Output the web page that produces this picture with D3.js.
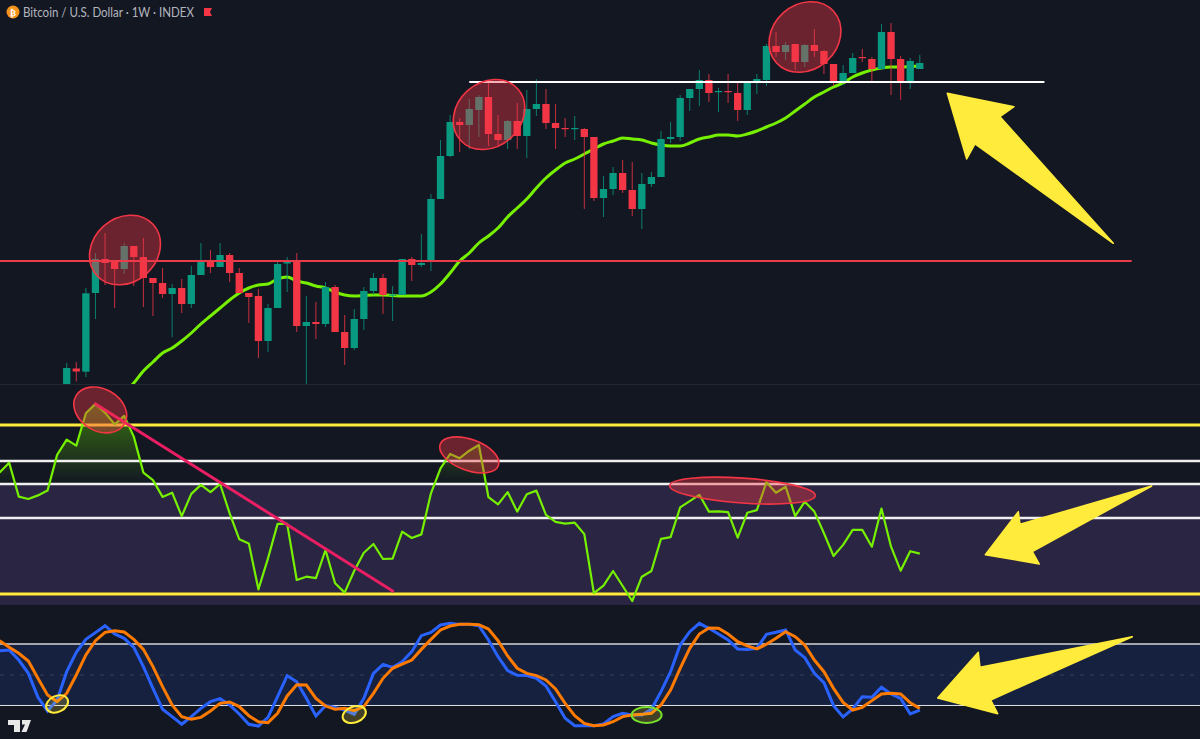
<!DOCTYPE html>
<html><head><meta charset="utf-8">
<script src="https://cdn.jsdelivr.net/npm/d3@7"></script>
<style>html,body{margin:0;padding:0;background:#131722;overflow:hidden}svg{display:block}</style>
</head><body><svg id="c" width="1200" height="739"></svg>
<script>
const title = "Bitcoin / U.S. Dollar · 1W · INDEX";
// Weekly candles, index 0..89 (price axis hidden: values in chart units)
const opens  = [-7,16.5,13.3,92,126,124,116,139,128,107,102,91,97,81,110,123,118,130,112,92,89,44,77,121.5,123,59,63,61,98,53,37,66,94,107,89.5,90,126,120,124,186,229,263,260,275,288,251,245,264,249,276,281,262,257,256,256,248,187,196,212,195,176,201,208,246,248,287,296,305,293,294,292,275,304,305,339,333,341,323,340,334,321,304,312,328,326,316,353,326,304,316];
const highs  = [22,23,97,132,152,125,142,139,147,107,117,101,106,119,142,135,142,132,117,92,96,81,123,128,132,89,83,103,100,70,76,98,112,111,99,126,128,151,191,245,270,267,286,290,305,270,265,282,295,306,296,281,267,269,257,248,209,218,225,223,212,213,254,263,290,296,315,311,297,311,303,304,311,341,353,343,341,341,356,335,321,320,332,336,328,361,362,329,327,330];
const lows   = [-10,3.5,8,66,100,77,111,99,78,69,87,48,72,77,110,112,118,103,92,62,27,33,77,93,53,-5,46,58,53,20,35,55,90,71,64,90,104,118,114,186,228,233,236,248,239,240,236,236,227,269,256,236,248,245,176,184,168,190,192,169,156,198,208,242,244,274,279,283,273,282,264,270,291,299,328,325,315,318,328,311,299,300,312,323,304,316,290,285,296,316];
const closes = [17,13.5,91.7,126,122,116,139,128,107,102,91,97,81,110,123,118,130,112,92,88,44,77,121,123,59,63,61,98,53,37,66,94,107,90,90.5,126,120,122,186,229,263,260,276,288,251,245,264,249,276,281,262,257,256,257,248,187,196,212,195,176,201,208,246,248,287,296,305,292,294,293,275,302,306,339,333,340,323,340,334,321,304,312,327,327,316,353,326,304,324,322];
// 20-period moving average, starting at candle 6
const maStart = 6;
const maValues = [-8,2,14,23,32,37,44,52,61,69,77,85,92,97,100,101,106,108,104,102,99,97,93,90,89,89.5,90,90,89.5,89,89,89,93,101,112,124,132,142,149,157,168,177,186,197,207,215,222,226,231,236,241,244,247,246,245,242,240,239,239,242,246,248,250,250,249,251,254,258,262,267,274,281,288,293,298,302,308,312,315,317,318,318,318.5,319];
// RSI, starting 7 weeks before candle 0
const oscStart = -7;
const rsiValues = [73.8,77.1,65.8,65,66.2,67.8,79.7,84.8,82.8,93.6,96.7,93.8,89.9,92.7,85.8,73.8,71.3,65.7,67.1,59.3,66.7,69.7,67.3,70,60.2,51.6,50.2,34.9,45.2,56.7,56.7,38,39.1,38.6,48,36.9,33.8,41.1,47.1,50,45,45.1,54.1,52,53.2,66.9,75.2,80,78.6,81.1,83,65.6,63.2,67.3,60.8,66.6,67.8,59.7,57.4,56.8,57.1,53.3,33.6,36.1,41,36,31,39.1,41,51.7,52.3,62.2,64.3,66.4,60.8,60.9,60.6,52.1,60.4,61.3,70.6,67.1,69.1,59.3,64.1,60.8,53.6,46,49.7,54.7,54.7,49.1,61.8,49.1,41.1,47.6,46.8];
const stochK = [73.5,74.2,64.5,51.6,28.4,15.2,25.8,53.2,71.9,84.5,91,97.7,89.7,85.5,76.8,58.1,37.1,16.8,9.7,2.3,9.7,17.7,24.2,27.1,21,12.3,2.3,0.6,9,29,49.4,43.5,27.4,10.3,20.3,18.7,16.1,11.9,27.4,51.6,60.3,57.4,62.9,72.6,88.1,91.3,98.4,100,99,99,97.7,83.9,67.7,54.2,49.7,49.4,46.8,39.4,24.2,8.1,1,1,1,2.6,9.7,12.9,11.3,11.3,16.8,33.9,53.2,79,91.9,100,95.2,89.7,83.9,75.2,74.8,75.8,89.4,91.3,93.6,74.2,66.8,51.6,42.6,20.3,9.4,17.1,29,28.4,38.1,31.6,27.4,12.3,16.1];
const stochD = [83.2,76.8,71,63.5,46.8,30.6,24.2,32.3,50,69.4,83.2,91.3,92.9,91.6,84.5,74.8,58.1,38.7,21,9.7,7.1,9,15.2,22.6,23.9,19.4,10.6,4.8,3.9,12.9,29.7,40.6,40.3,27.4,20,16.8,17.7,15.5,19.4,32.3,46.8,56.5,60.6,64.5,74.8,84.5,93.6,97.4,99,99,98.7,94.5,83.2,68.4,56.5,51.6,49.4,45.2,36.5,22.6,10.6,3.2,1,1.6,4.8,9.7,11.3,11.9,12.9,21,35.5,56.5,75.8,89.7,95.5,95.2,89.7,82.3,78.1,75.2,79.7,85.5,91.9,87.1,79,64.5,53.2,37.1,23.5,16.1,18.7,25.2,31.6,32.3,31.6,23.2,17.7];
const rsiLevels = [{v:89.67,c:"#ffeb3b",w:3.2},{v:77.67,c:"#f0f0f0",w:2.4},{v:70,c:"#f0f0f0",w:2.4},{v:58.67,c:"#f0f0f0",w:2.4},{v:33.33,c:"#ffeb3b",w:3.2}];

const W=1200,H=739;
const UP="#089981",DOWN="#f23645";
const svg=d3.select("#c");
const defs=svg.append("defs");
defs.append("clipPath").attr("id","mainClip").append("rect").attr("x",0).attr("y",0).attr("width",W).attr("height",384);
defs.append("clipPath").attr("id","obClip").append("rect").attr("x",0).attr("y",385).attr("width",W).attr("height",99);
const grad=defs.append("linearGradient").attr("id","obGrad").attr("gradientUnits","userSpaceOnUse").attr("x1",0).attr("x2",0).attr("y1",404).attr("y2",484);
grad.append("stop").attr("offset",0).attr("stop-color","#5fd000").attr("stop-opacity",.5);
grad.append("stop").attr("offset",1).attr("stop-color","#5fd000").attr("stop-opacity",0);

svg.append("rect").attr("width",W).attr("height",H).attr("fill","#131722");

const x=d3.scaleLinear().domain([0,89]).range([66.7,919.8]);
const y=d3.scaleLinear().domain([0,384]).range([385,1]);
const yR=d3.scaleLinear().domain([70,30]).range([484,604]);
const yS=d3.scaleLinear().domain([20,80]).range([706,644]);
const ax=d3.scaleIdentity().domain([0,W]), ay=d3.scaleIdentity().domain([0,H]);

// separator
svg.append("line").attr("x1",0).attr("x2",W).attr("y1",384.5).attr("y2",384.5).attr("stroke","#232733");

// ---- main pane
const main=svg.append("g").attr("clip-path","url(#mainClip)");
main.append("path").datum(maValues).attr("fill","none").attr("stroke","#76f000").attr("stroke-width",3).attr("stroke-linejoin","round")
  .attr("d",d3.line().x((d,i)=>x(i+maStart)).y(d=>y(d)).curve(d3.curveMonotoneX));
const idx=d3.range(opens.length);
const bw=7.3;
const col=i=>closes[i]>=opens[i]?UP:DOWN;
main.selectAll("line.w").data(idx).join("line").attr("class","w")
  .attr("x1",i=>x(i)).attr("x2",i=>x(i)).attr("y1",i=>y(highs[i])).attr("y2",i=>y(lows[i]))
  .attr("stroke",col).attr("stroke-width",1).attr("stroke-opacity",.8);
main.selectAll("rect.b").data(idx).join("rect").attr("class","b")
  .attr("x",i=>x(i)-bw/2).attr("width",bw)
  .attr("y",i=>y(Math.max(opens[i],closes[i])))
  .attr("height",i=>Math.max(1.2,Math.abs(y(opens[i])-y(closes[i]))))
  .attr("fill",col);

// horizontal drawings
svg.append("line").attr("x1",0).attr("x2",x(111.1)).attr("y1",y(124)).attr("y2",y(124)).attr("stroke","#e83c4d").attr("stroke-width",2);
svg.append("line").attr("x1",x(42)).attr("x2",x(102)).attr("y1",y(303)).attr("y2",y(303)).attr("stroke","#ffffff").attr("stroke-width",2.2);

function ell(g,cx,cy,rx,ry,rot,fill,stroke,sw){
  g.append("ellipse").attr("cx",0).attr("cy",0).attr("rx",rx).attr("ry",ry)
   .attr("transform",`translate(${cx},${cy}) rotate(${rot})`)
   .attr("fill",fill).attr("stroke",stroke).attr("stroke-width",sw||1.6);
}
const RED_F="rgba(242,54,69,0.4)",RED_S="#f23645";
ell(svg,x(6.08),y(135),38,32,-42,RED_F,RED_S);
ell(svg,x(44.06),y(270.5),38.5,32,-42,RED_F,RED_S);
ell(svg,x(77.02),y(348),38.5,32.5,-42,RED_F,RED_S);

// ---- RSI pane
svg.append("rect").attr("x",0).attr("width",W).attr("y",yR(70)).attr("height",yR(29.67)-yR(70)).attr("fill","#2a2542");
const oscX=(d,i)=>x(i+oscStart);
svg.append("path").datum(rsiValues).attr("clip-path","url(#obClip)").attr("fill","url(#obGrad)")
  .attr("d",d3.area().x(oscX).y0(yR(70)).y1(d=>yR(d)));
svg.selectAll("line.lvl").data(rsiLevels).join("line").attr("class","lvl")
  .attr("x1",0).attr("x2",W).attr("y1",d=>yR(d.v)).attr("y2",d=>yR(d.v)).attr("stroke",d=>d.c).attr("stroke-width",d=>d.w);
svg.append("path").datum(rsiValues).attr("fill","none").attr("stroke","#76f000").attr("stroke-width",2.2).attr("stroke-linejoin","round")
  .attr("d",d3.line().x(oscX).y(d=>yR(d)));
svg.append("line").attr("x1",x(3)).attr("y1",yR(96.7)).attr("x2",x(34)).attr("y2",yR(34.3)).attr("stroke","#e91e63").attr("stroke-width",3).attr("stroke-linecap","round");
ell(svg,x(3.5),yR(94.7),28,21,30,RED_F,RED_S);
ell(svg,x(42),yR(79.7),31,15.5,20,RED_F,RED_S);
ell(svg,x(70.5),yR(67.8),73,12.5,4,RED_F,RED_S);

// ---- Stochastic pane
svg.append("rect").attr("x",0).attr("width",W).attr("y",yS(80)).attr("height",yS(20)-yS(80)).attr("fill","#15213f");
svg.append("line").attr("x1",0).attr("x2",W).attr("y1",yS(50)).attr("y2",yS(50)).attr("stroke","#3a4257").attr("stroke-dasharray","4 6");
svg.append("line").attr("x1",0).attr("x2",W).attr("y1",yS(80)).attr("y2",yS(80)).attr("stroke","#a4a6ae").attr("stroke-width",2);
svg.append("line").attr("x1",0).attr("x2",W).attr("y1",yS(20.5)).attr("y2",yS(20.5)).attr("stroke","#e2e2e6").attr("stroke-width",1);
const ln=d3.line().x(oscX).y(d=>yS(d));
svg.append("path").datum(stochK).attr("fill","none").attr("stroke","#2962ff").attr("stroke-width",3).attr("d",ln);
svg.append("path").datum(stochD).attr("fill","none").attr("stroke","#ff7a00").attr("stroke-width",3).attr("d",ln);
ell(svg,x(-1),yS(22),11.5,8,-25,"rgba(255,235,59,0.2)","#ffeb3b",2);
ell(svg,x(30),yS(11.8),12,8,-20,"rgba(255,235,59,0.2)","#ffeb3b",2);
ell(svg,x(60.5),yS(11.3),15,8,0,"rgba(255,235,59,0.2)","#76e02a",2);

// ---- yellow arrows (drawing tools)
const arrows=[
 [[947.3,93.3],[1014,106.7],[1000,116.7],[1113.3,243.3],[975,144],[966.7,159]],
 [[985.3,554.7],[1018.3,511.7],[1020,524.3],[1151.7,486],[1032.3,551.7],[1039.3,564]],
 [[937.7,698],[978.3,652.3],[980,667.3],[1132.3,636.7],[990.7,700],[997.7,713.7]]
];
svg.selectAll("path.arrow").data(arrows).join("path").attr("class","arrow")
  .attr("d",d3.line().x(p=>ax(p[0])).y(p=>ay(p[1])).curve(d3.curveLinearClosed))
  .attr("fill","#ffeb3b").attr("stroke","#ffeb3b").attr("stroke-width",1.5).attr("stroke-linejoin","round");

// ---- header
svg.append("circle").attr("cx",13).attr("cy",12).attr("r",6.5).attr("fill","#f7931a");
svg.append("text").attr("x",13).attr("y",15.5).attr("text-anchor","middle").attr("font-family","DejaVu Sans").attr("font-size",9).attr("font-weight","bold").attr("fill","#fff").text("₿");
svg.append("text").attr("x",23).attr("y",16.5).attr("font-family","Lato, 'Noto Sans'").attr("font-size",12.5).attr("textLength",171).attr("lengthAdjust","spacingAndGlyphs").attr("fill","#b2b5be").text(title);
svg.append("path").attr("d","M204 8H212L210 12L212 16H204Z").attr("fill","#f23645");

// ---- TradingView mark
const logo=svg.append("g").attr("fill","#e8e8e8");
logo.append("path").attr("d","M8 720H20V732H14V725H8Z");
logo.append("path").attr("d","M22 720H31L26.5 732H21.5L25 724.5H22Z");
</script></body></html>
